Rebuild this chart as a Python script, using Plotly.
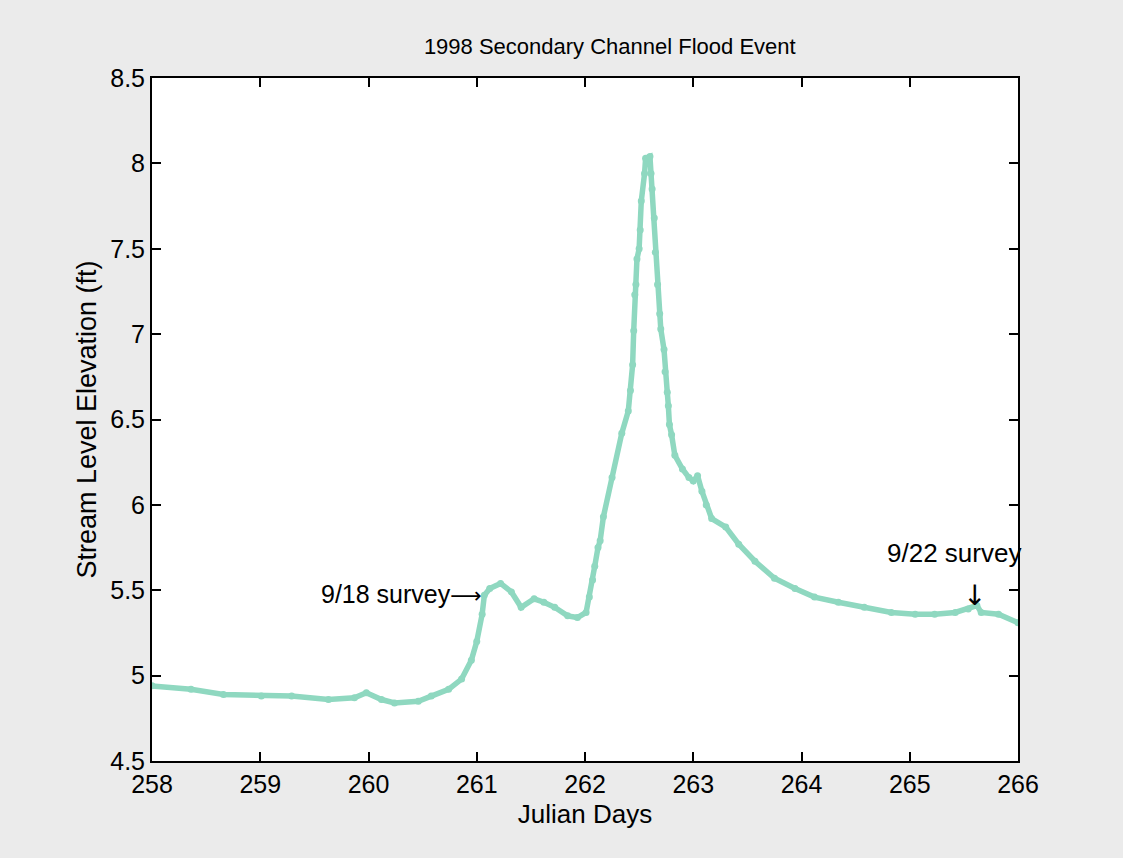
import plotly.graph_objects as go

# Julian day and stream level elevation (ft)
julian_day = [
    258.00, 258.36, 258.66, 259.01, 259.29, 259.63, 259.87, 259.98, 260.12, 260.24,
    260.46, 260.58, 260.74, 260.86, 260.95, 261.00, 261.05, 261.07, 261.12, 261.22,
    261.32, 261.41, 261.53, 261.62, 261.72, 261.84, 261.93, 262.01, 262.04, 262.07,
    262.09, 262.12, 262.14, 262.17, 262.25, 262.34, 262.40, 262.42, 262.44, 262.45,
    262.46, 262.47, 262.48, 262.50, 262.51, 262.52, 262.55, 262.56, 262.60, 262.61,
    262.62, 262.64, 262.65, 262.67, 262.69, 262.70, 262.73, 262.74, 262.76, 262.77,
    262.78, 262.80, 262.83, 262.90, 262.96, 263.00, 263.04, 263.08, 263.12, 263.17,
    263.30, 263.42, 263.57, 263.75, 263.94, 264.12, 264.34, 264.58, 264.83, 265.05,
    265.23, 265.42, 265.54, 265.62, 265.66, 265.82, 266.00,
]
stream_level = [
    4.94, 4.92, 4.89, 4.88, 4.88, 4.86, 4.87, 4.90, 4.86, 4.84,
    4.85, 4.88, 4.92, 4.98, 5.09, 5.20, 5.36, 5.47, 5.51, 5.54,
    5.49, 5.40, 5.45, 5.43, 5.40, 5.35, 5.34, 5.37, 5.46, 5.56,
    5.64, 5.75, 5.79, 5.93, 6.16, 6.42, 6.55, 6.67, 6.82, 7.02,
    7.23, 7.29, 7.44, 7.50, 7.61, 7.78, 7.94, 8.03, 8.04, 7.94,
    7.85, 7.68, 7.48, 7.29, 7.12, 7.03, 6.91, 6.78, 6.66, 6.58,
    6.47, 6.41, 6.29, 6.21, 6.16, 6.14, 6.17, 6.08, 6.00, 5.92,
    5.87, 5.77, 5.67, 5.57, 5.51, 5.46, 5.43, 5.40, 5.37, 5.36,
    5.36, 5.37, 5.39, 5.41, 5.37, 5.36, 5.31,
]

x_ticks = [258, 259, 260, 261, 262, 263, 264, 265, 266]
y_ticks = [4.5, 5, 5.5, 6, 6.5, 7, 7.5, 8, 8.5]

# annotation anchors (data units)
note1_x, note1_y = 261.07, 5.48
note2_x, note2_y = 265.41, 5.72
arrow2_x, arrow2_y = 265.60, 5.47

FONT = "Liberation Sans, Arial, sans-serif"
ARROW_FONT = "DejaVu Sans, sans-serif"
COLOR = "#8fd8c0"

fig = go.Figure()
fig.add_trace(go.Scatter(
    x=julian_day, y=stream_level, mode="lines+markers",
    line=dict(color=COLOR, width=5.5),
    marker=dict(color=COLOR, size=7),
    showlegend=False,
))

fig.add_annotation(
    x=note1_x, y=note1_y, showarrow=False, xanchor="right", yanchor="middle",
    text="9/18 survey<span style='font-family:DejaVu Sans;font-size:22px'>⟶</span>",
    font=dict(size=25, color="black"))
fig.add_annotation(x=note2_x, y=note2_y, text="9/22 survey", showarrow=False,
                   xanchor="center", yanchor="middle", font=dict(size=26, color="black"))
fig.add_annotation(x=arrow2_x, y=arrow2_y, text="↓", showarrow=False,
                   xanchor="center", yanchor="middle",
                   font=dict(size=28, color="black", family=ARROW_FONT))

axis_common = dict(
    showline=True, linecolor="black", linewidth=2, mirror="ticks",
    ticks="inside", ticklen=9, tickwidth=1.5, tickcolor="black",
    showgrid=False, zeroline=False,
    tickfont=dict(size=25, color="black"),
)

fig.update_layout(
    width=1123, height=858,
    margin=dict(l=152, r=105, t=78, b=97),
    paper_bgcolor="#ebebeb", plot_bgcolor="white",
    font=dict(family=FONT, color="black"),
    title=dict(text="1998 Secondary Channel Flood Event", x=0.543, xanchor="center",
               y=1 - 46 / 858, yanchor="middle", yref="container",
               font=dict(size=22, color="black")),
    xaxis=dict(range=[258, 266], tickvals=x_ticks,
               title=dict(text="Julian Days", font=dict(size=26), standoff=8),
               **axis_common),
    yaxis=dict(range=[4.5, 8.5], tickvals=y_ticks,
               title=dict(text="Stream Level Elevation (ft)", font=dict(size=27), standoff=6),
               **axis_common),
)

fig.write_html("out.html")
